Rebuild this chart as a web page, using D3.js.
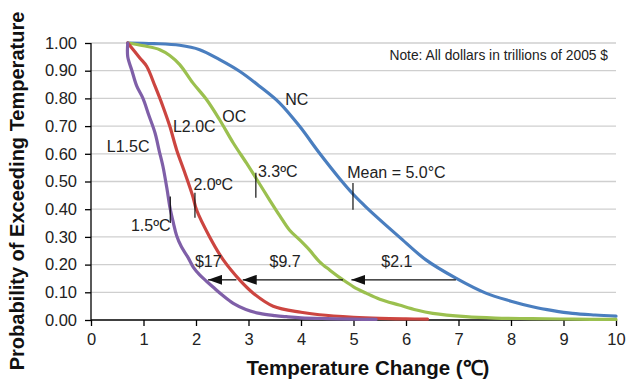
<!DOCTYPE html>
<html>
<head>
<meta charset="utf-8">
<script src="https://cdn.jsdelivr.net/npm/d3@7"></script>
<style>
  html, body { margin: 0; padding: 0; background: #fff; }
  svg { display: block; font-family: "Liberation Sans", Arial, Helvetica, sans-serif; }
</style>
</head>
<body>
<svg id="chart" width="627" height="381"></svg>
<script>
// ---------- DATA ----------
const seriesNames = ["NC", "OC", "L2.0C", "L1.5C"];

const ncTemp = [0.70,1.20,1.69,2.07,2.45,2.83,3.21,3.59,3.97,4.35,4.73,4.99,5.20,5.43,5.87,6.38,6.95,7.52,8.00,8.41,8.80,9.17,9.60,10.00];
const ncProb = [1.000,0.998,0.992,0.976,0.940,0.898,0.844,0.784,0.700,0.603,0.512,0.455,0.415,0.374,0.300,0.217,0.151,0.097,0.068,0.048,0.034,0.024,0.018,0.014];

const ocTemp = [0.70,1.00,1.31,1.50,1.69,1.94,2.20,2.45,2.71,2.96,3.15,3.40,3.60,3.78,3.97,4.16,4.35,4.55,4.80,5.00,5.24,5.50,5.87,6.20,6.51,7.14,7.70,8.40,9.20,10.00];
const ocProb = [1.000,0.990,0.976,0.955,0.922,0.856,0.796,0.723,0.639,0.567,0.510,0.434,0.375,0.325,0.290,0.253,0.211,0.180,0.145,0.120,0.097,0.075,0.054,0.036,0.024,0.012,0.007,0.005,0.003,0.002];

const l20Temp = [0.70,0.93,1.06,1.22,1.37,1.50,1.63,1.79,1.94,2.01,2.26,2.52,2.83,3.09,3.47,4.00,4.35,5.00,5.50,6.00,6.41];
const l20Prob = [1.000,0.946,0.916,0.844,0.771,0.700,0.615,0.530,0.446,0.398,0.300,0.217,0.145,0.097,0.050,0.028,0.019,0.010,0.006,0.004,0.003];

const l15Temp = [0.70,0.70,0.78,0.87,0.99,1.10,1.22,1.30,1.37,1.45,1.50,1.57,1.63,1.72,1.85,1.95,2.07,2.20,2.33,2.50,2.71,2.95,3.21,3.50,3.72,4.00,4.50,5.00,5.43];
const l15Prob = [1.000,0.950,0.900,0.845,0.800,0.740,0.675,0.610,0.555,0.470,0.410,0.350,0.305,0.265,0.225,0.190,0.163,0.140,0.118,0.090,0.060,0.038,0.024,0.016,0.012,0.008,0.005,0.003,0.002];

const seriesColors = ["#4a7ebf", "#9bc04f", "#cc4540", "#7f5fa8"];

const xTicks = [0,1,2,3,4,5,6,7,8,9,10];
const yTicks = [0,0.1,0.2,0.3,0.4,0.5,0.6,0.7,0.8,0.9,1.0];

// series labels
const labelText = ["NC", "OC", "L2.0C", "L1.5C"];
const labelX    = [3.70, 2.50, 1.56, 0.30];
const labelY    = [0.775, 0.715, 0.68, 0.605];

// vertical marker annotations
const markText  = ["1.5ºC", "2.0ºC", "3.3ºC", "Mean = 5.0°C"];
const markTemp  = [1.51, 1.98, 3.14, 4.99];
const markLo    = [0.350, 0.369, 0.441, 0.398];
const markHi    = [0.446, 0.459, 0.532, 0.495];
const markTextX = [0.76, 1.95, 3.18, 4.88];
const markTextY = [0.32, 0.470, 0.515, 0.512];

// cost arrows
const arrowFrom = [6.95, 4.80, 2.77];
const arrowTo   = [4.96, 2.89, 2.23];
const arrowProb = 0.145;
const costText  = ["$2.1", "$9.7", "$17"];
const costX     = [5.53, 3.40, 1.98];
const costY     = 0.19;

const noteText = "Note: All dollars in trillions of 2005 $";

// ---------- CHART ----------
const svg = d3.select("#chart");
const x = d3.scaleLinear().domain([0, 10]).range([91, 616]);
const y = d3.scaleLinear().domain([0, 1]).range([320, 43]);

// gridlines
svg.append("g")
  .selectAll("line")
  .data(yTicks.filter(d => d > 0))
  .join("line")
  .attr("x1", x(0)).attr("x2", x(10))
  .attr("y1", d => y(d)).attr("y2", d => y(d))
  .attr("stroke", "#cfcfcf").attr("stroke-width", 1.3);

// axes
const yAxis = svg.append("g")
  .attr("transform", `translate(${x(0)},0)`)
  .call(d3.axisLeft(y).tickValues(yTicks).tickFormat(d3.format(".2f")).tickSize(6).tickPadding(8));
const xAxis = svg.append("g")
  .attr("transform", `translate(0,${y(0)})`)
  .call(d3.axisBottom(x).tickValues(xTicks).tickFormat(d3.format("d")).tickSize(6).tickPadding(7));
[yAxis, xAxis].forEach(g => {
  g.select(".domain").attr("stroke", "#000").attr("stroke-width", 1.3);
  g.selectAll(".tick line").attr("stroke", "#000").attr("stroke-width", 1.3);
  g.selectAll(".tick text").attr("fill", "#222").attr("font-size", 16.5)
   .attr("font-family", '"Liberation Sans", Arial, sans-serif');
});
xAxis.select(".domain").attr("d", `M${x(0)},0H${x(10)}`);
yAxis.select(".domain").attr("d", `M0,${y(0)}V${y(1)}`);

// curves
const series = [
  {t: ncTemp, p: ncProb},
  {t: ocTemp, p: ocProb},
  {t: l20Temp, p: l20Prob},
  {t: l15Temp, p: l15Prob}
];
const line = d3.line()
  .x(d => x(d[0])).y(d => y(d[1]))
  .curve(d3.curveCatmullRom.alpha(0.5));
svg.append("g")
  .selectAll("path")
  .data(series)
  .join("path")
  .attr("d", s => line(s.t.map((t, i) => [t, s.p[i]])))
  .attr("fill", "none")
  .attr("stroke", (s, i) => seriesColors[i])
  .attr("stroke-width", 3.2)
  .attr("stroke-linejoin", "round")
  .attr("stroke-linecap", "round");

// marker lines
svg.append("g")
  .selectAll("line")
  .data(markTemp)
  .join("line")
  .attr("x1", d => x(d)).attr("x2", d => x(d))
  .attr("y1", (d, i) => y(markLo[i])).attr("y2", (d, i) => y(markHi[i]))
  .attr("stroke", "#111").attr("stroke-width", 1.2);

const textStyle = sel => sel.attr("font-size", 16).attr("fill", "#222");

svg.append("g")
  .selectAll("text")
  .data(markText)
  .join("text")
  .attr("x", (d, i) => x(markTextX[i]))
  .attr("y", (d, i) => y(markTextY[i]))
  .text(d => d)
  .call(textStyle);

// series labels
svg.append("g")
  .selectAll("text")
  .data(labelText)
  .join("text")
  .attr("x", (d, i) => x(labelX[i]))
  .attr("y", (d, i) => y(labelY[i]))
  .text(d => d)
  .call(textStyle);

// arrows
const defs = svg.append("defs");
defs.append("marker")
  .attr("id", "arrowhead")
  .attr("viewBox", "0 0 14 10")
  .attr("refX", 14).attr("refY", 5)
  .attr("markerWidth", 14).attr("markerHeight", 10)
  .attr("markerUnits", "userSpaceOnUse")
  .attr("orient", "auto")
  .append("path")
  .attr("d", "M0,0L14,5L0,10Z")
  .attr("fill", "#111");

svg.append("g")
  .selectAll("line")
  .data(arrowFrom)
  .join("line")
  .attr("x1", d => x(d)).attr("x2", (d, i) => x(arrowTo[i]))
  .attr("y1", y(arrowProb)).attr("y2", y(arrowProb))
  .attr("stroke", "#111").attr("stroke-width", 1.3)
  .attr("marker-end", "url(#arrowhead)");

svg.append("g")
  .selectAll("text")
  .data(costText)
  .join("text")
  .attr("x", (d, i) => x(costX[i]))
  .attr("y", y(costY))
  .text(d => d)
  .call(textStyle);

// note
svg.append("text")
  .attr("x", 608).attr("y", 60)
  .attr("text-anchor", "end")
  .attr("font-size", 13.8)
  .attr("fill", "#222")
  .text(noteText);

// axis titles
svg.append("text")
  .attr("x", 368).attr("y", 375)
  .attr("text-anchor", "middle")
  .attr("font-size", 20.5).attr("font-weight", "bold").attr("fill", "#111")
  .text("Temperature Change (\u2103)");

svg.append("text")
  .attr("transform", "translate(24,191) rotate(-90)")
  .attr("text-anchor", "middle")
  .attr("font-size", 20).attr("font-weight", "bold").attr("fill", "#111")
  .text("Probability of Exceeding Temperature");
</script>
</body>
</html>
